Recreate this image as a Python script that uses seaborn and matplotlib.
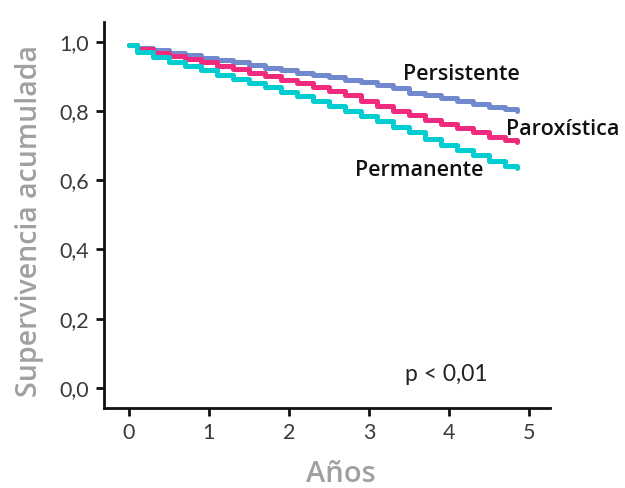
import matplotlib
matplotlib.use("Agg")
import matplotlib.pyplot as plt
import seaborn as sns
import pandas as pd

times = [0, 0.1, 0.3, 0.5, 0.7, 0.9, 1.1, 1.3, 1.5, 1.7, 1.9, 2.1, 2.3, 2.5,
         2.7, 2.9, 3.1, 3.3, 3.5, 3.7, 3.9, 4.1, 4.3, 4.5, 4.7, 4.85]
persistente = [0.99, 0.982, 0.975, 0.968, 0.962, 0.953, 0.946, 0.940, 0.932,
               0.925, 0.918, 0.910, 0.903, 0.897, 0.890, 0.883, 0.875, 0.866,
               0.852, 0.845, 0.838, 0.830, 0.820, 0.812, 0.805, 0.800]
paroxistica = [0.99, 0.978, 0.968, 0.960, 0.950, 0.940, 0.930, 0.920, 0.910,
               0.900, 0.890, 0.880, 0.868, 0.858, 0.845, 0.830, 0.815, 0.800,
               0.788, 0.775, 0.762, 0.750, 0.738, 0.726, 0.715, 0.710]
permanente = [0.99, 0.970, 0.955, 0.942, 0.930, 0.918, 0.905, 0.892, 0.880,
              0.868, 0.856, 0.844, 0.830, 0.815, 0.800, 0.785, 0.770, 0.755,
              0.738, 0.720, 0.703, 0.688, 0.672, 0.656, 0.642, 0.635]
groups = ["Persistente", "Paroxística", "Permanente"]
colors = ["#7189CD", "#F02A7C", "#00CDD0"]
yticks = [0.0, 0.2, 0.4, 0.6, 0.8, 1.0]
ytick_labels = ["0,0", "0,2", "0,4", "0,6", "0,8", "1,0"]
xticks = [0, 1, 2, 3, 4, 5]

rows = []
for g, vals in zip(groups, [persistente, paroxistica, permanente]):
    for t, v in zip(times, vals):
        rows.append({"t": t, "s": v, "grupo": g})
df = pd.DataFrame(rows)

sns.set_theme(style="ticks")
plt.rcParams["font.family"] = ["Open Sans", "DejaVu Sans"]

fig = plt.figure(figsize=(6.25, 4.88), dpi=100)
ax = fig.add_axes([0.1664, 0.164, 0.7136, 0.791])

sns.lineplot(data=df, x="t", y="s", hue="grupo", hue_order=groups,
             palette=colors, estimator=None, sort=False, drawstyle="steps-post",
             linewidth=3.6, legend=False, ax=ax)

ax.set_xlim(-0.31, 5.26)
ax.set_ylim(-0.058, 1.057)
ax.set_xticks(xticks)
ax.set_xticklabels([str(x) for x in xticks])
ax.set_yticks(yticks)
ax.set_yticklabels(ytick_labels)
ax.tick_params(axis="both", colors="#3a3a3a", length=6, width=2, pad=5)
ax.tick_params(axis="both", color="#111111")
for lab in ax.get_xticklabels() + ax.get_yticklabels():
    lab.set_family(["Lato", "DejaVu Sans"])
    lab.set_fontsize(15.5)
for side in ["top", "right"]:
    ax.spines[side].set_visible(False)
for side in ["left", "bottom"]:
    ax.spines[side].set_linewidth(2)
    ax.spines[side].set_color("#111111")

ax.set_xlabel("Años", fontsize=21, fontweight="semibold", color="#A0A0A0")
ax.set_ylabel("Supervivencia acumulada", fontsize=20.5, fontweight="semibold",
              color="#A0A0A0")
ax.xaxis.set_label_coords(0.53, -0.135)
ax.yaxis.set_label_coords(-0.135, 0.485)

ax.text(3.43, 0.904, "Persistente", fontsize=15.5, fontweight="semibold",
        color="#111111", va="center", ha="left")
ax.text(4.71, 0.745, "Paroxística", fontsize=15.5, fontweight="semibold",
        color="#111111", va="center", ha="left", clip_on=False)
ax.text(2.83, 0.627, "Permanente", fontsize=15.5, fontweight="semibold",
        color="#111111", va="center", ha="left")
ax.text(3.45, 0.038, "p < 0,01", fontsize=16.5, color="#222222",
        family=["Lato", "DejaVu Sans"], va="center", ha="left")

fig.savefig("out.png", dpi=100)
